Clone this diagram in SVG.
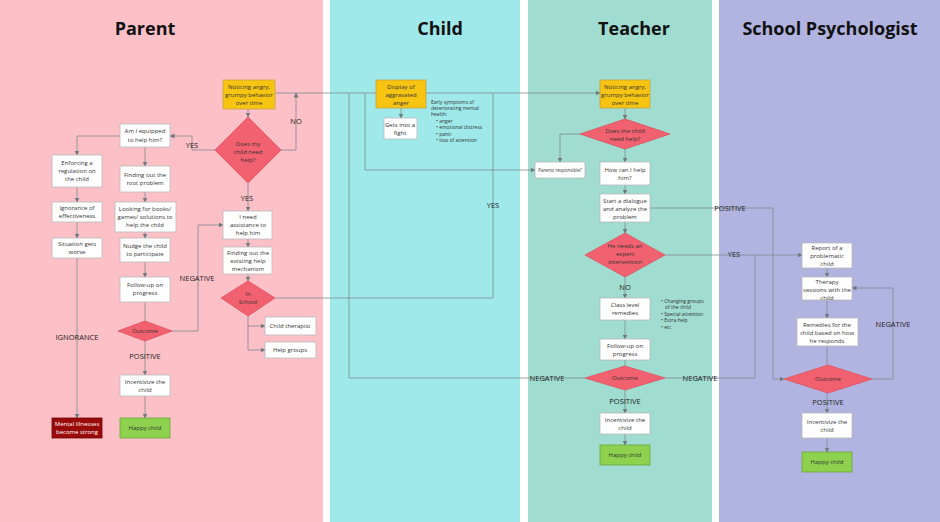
<svg xmlns="http://www.w3.org/2000/svg" width="940" height="522" viewBox="0 0 940 522">
<defs>
<marker id="ah" markerWidth="5" markerHeight="5" refX="4.5" refY="2.5" orient="auto" markerUnits="userSpaceOnUse"><path d="M0,0 L5,2.5 L0,5 z" fill="#6f7a80"/></marker>
<style>
.c{fill:none;stroke:#7d8a90;stroke-width:0.8}
.a{marker-end:url(#ah)}
.b{fill:#fff;stroke:#b8b8b8;stroke-width:0.8}
.y{fill:#f7c511;stroke:#c9a040;stroke-width:0.8}
.d{fill:#f2616f;stroke:#e05060;stroke-width:0.8}
.g{fill:#8dd14f;stroke:#6aa83a;stroke-width:0.8}
.r{fill:#990a0a;stroke:#700;stroke-width:0.8}
text{font-family:"Open Sans","Noto Sans",sans-serif;font-size:6px;fill:#333;text-anchor:middle}
.t{font-size:18px;font-weight:bold;fill:#111}
.l{font-size:7.5px;fill:#222}
.s{font-size:5px;text-anchor:start}
.w{fill:#fff}
</style>
</defs>
<rect width="940" height="522" fill="#fff"/>
<rect x="0" y="0" width="323" height="522" fill="#fec0c7"/>
<rect x="330" y="0" width="190" height="522" fill="#a0e9eb"/>
<rect x="528" y="0" width="184" height="522" fill="#a0dcd0"/>
<rect x="719" y="0" width="221" height="522" fill="#b1b4e0"/>
<text class="t" x="145" y="35">Parent</text>
<text class="t" x="440" y="35">Child</text>
<text class="t" x="634" y="35">Teacher</text>
<text class="t" x="830" y="35">School Psychologist</text>

<g id="connectors">
<path class="c a" d="M275,93 H600"/>
<path class="c a" d="M281,150 H296 V93"/>
<path class="c a" d="M215,150 H192 V136 H170"/>
<path class="c a" d="M120,136 H77 V155"/>
<path class="c a" d="M77,187 V202"/>
<path class="c a" d="M77,222 V238"/>
<path class="c a" d="M77,258 V418"/>
<path class="c a" d="M145,147 V166"/>
<path class="c a" d="M145,192 V202"/>
<path class="c a" d="M145,232 V238"/>
<path class="c a" d="M145,262 V277"/>
<path class="c" d="M145,302 V321"/>
<path class="c a" d="M145,341 V375"/>
<path class="c a" d="M145,396 V418"/>
<path class="c a" d="M172,331 H198 V225 H223"/>
<path class="c a" d="M248,109 V117"/>
<path class="c a" d="M248,183 V211"/>
<path class="c a" d="M248,239 V247"/>
<path class="c a" d="M248,274 V281"/>
<path class="c" d="M248,316 V350"/>
<path class="c a" d="M248,326 H265"/>
<path class="c a" d="M248,350 H265"/>
<path class="c" d="M275,298 H493 V93"/>
<path class="c" d="M585,378 H349 V93"/>
<path class="c a" d="M365,93 V170 H535"/>
<path class="c a" d="M401,108 V118"/>
<path class="c a" d="M625,108 V119"/>
<path class="c a" d="M580,134 H560 V162"/>
<path class="c a" d="M625,149 V162"/>
<path class="c a" d="M625,185 V194"/>
<path class="c a" d="M625,222 V233"/>
<path class="c a" d="M625,277 V298"/>
<path class="c a" d="M625,320 V339"/>
<path class="c" d="M625,360 V366"/>
<path class="c a" d="M625,390 V413"/>
<path class="c a" d="M625,434 V445"/>
<path class="c a" d="M665,255 H802"/>
<path class="c" d="M665,378 H755 V255"/>
<path class="c a" d="M650,208 H773 V379 H784"/>
<path class="c a" d="M827,268 V277"/>
<path class="c a" d="M827,300 V318"/>
<path class="c" d="M827,346 V365"/>
<path class="c a" d="M872,379 H893 V288 H852"/>
<path class="c a" d="M827,393 V413"/>
<path class="c a" d="M827,438 V452"/>
</g>
<g id="labels">
<text class="l" x="192" y="148">YES</text>
<text class="l" x="296" y="124">NO</text>
<text class="l" x="247" y="201">YES</text>
<text class="l" x="197" y="281">NEGATIVE</text>
<text class="l" x="77" y="340">IGNORANCE</text>
<text class="l" x="145" y="359">POSITIVE</text>
<text class="l" x="493" y="208">YES</text>
<text class="l" x="625" y="290">NO</text>
<text class="l" x="547" y="381">NEGATIVE</text>
<text class="l" x="700" y="381">NEGATIVE</text>
<text class="l" x="625" y="404">POSITIVE</text>
<text class="l" x="730" y="211">POSITIVE</text>
<text class="l" x="734" y="257">YES</text>
<text class="l" x="893" y="327">NEGATIVE</text>
<text class="l" x="828" y="405">POSITIVE</text>
</g>

<g id="p-notice"><rect class="y" x="223" y="80" width="52" height="29"/><text x="249" y="89">Noticing angry,</text><text x="249" y="97">grumpy behavior</text><text x="249" y="105">over time</text></g>
<g id="p-need"><polygon class="d" points="248,117 281,150 248,183 215,150"/><text x="248" y="146">Does my</text><text x="248" y="154">child need</text><text x="248" y="162">help?</text></g>
<g id="p-equip"><rect class="b" x="120" y="124" width="50" height="23"/><text x="145" y="133">Am I equipped</text><text x="145" y="142">to help him?</text></g>
<g id="p-enforce"><rect class="b" x="52" y="155" width="50" height="32"/><text x="77" y="165">Enforcing a</text><text x="77" y="173">regulation on</text><text x="77" y="181">the child</text></g>
<g id="p-ignore"><rect class="b" x="52" y="202" width="50" height="20"/><text x="77" y="210">Ignorance of</text><text x="77" y="218">effectiveness</text></g>
<g id="p-worse"><rect class="b" x="52" y="238" width="50" height="20"/><text x="77" y="246">Situation gets</text><text x="77" y="254">worse</text></g>
<g id="p-root"><rect class="b" x="120" y="166" width="50" height="26"/><text x="145" y="177">Finding out the</text><text x="145" y="185">root problem</text></g>
<g id="p-books"><rect class="b" x="115" y="202" width="61" height="30"/><text x="145" y="211">Looking for books/</text><text x="145" y="219">games/ solutions to</text><text x="145" y="227">help the child</text></g>
<g id="p-nudge"><rect class="b" x="120" y="238" width="50" height="24"/><text x="145" y="248">Nudge the child</text><text x="145" y="256">to participate</text></g>
<g id="p-follow"><rect class="b" x="120" y="277" width="50" height="25"/><text x="145" y="287">Follow-up on</text><text x="145" y="295">progress</text></g>
<g id="p-outcome"><polygon class="d" points="118,331 145,321 172,331 145,341"/><text x="145" y="333">Outcome</text></g>
<g id="p-incent"><rect class="b" x="120" y="375" width="50" height="21"/><text x="145" y="384">Incentivize the</text><text x="145" y="392">child</text></g>
<g id="p-happy"><rect class="g" x="120" y="418" width="50" height="20"/><text x="145" y="430">Happy child</text></g>
<g id="p-mental"><rect class="r" x="52" y="418" width="50" height="20"/><text class="w" x="77" y="426">Mental illnesses</text><text class="w" x="77" y="434">become strong</text></g>
<g id="p-assist"><rect class="b" x="223" y="211" width="49" height="28"/><text x="248" y="219">I need</text><text x="248" y="227">assistance to</text><text x="248" y="235">help him</text></g>
<g id="p-existing"><rect class="b" x="223" y="247" width="49" height="27"/><text x="248" y="255">Finding out the</text><text x="248" y="263">existing help</text><text x="248" y="271">mechanism</text></g>
<g id="p-school"><polygon class="d" points="248,281 275,298 248,316 221,298"/><text x="248" y="296">In</text><text x="248" y="304">School</text></g>
<g id="p-therapist"><rect class="b" x="265" y="317" width="51" height="18"/><text x="290" y="328">Child therapist</text></g>
<g id="p-groups"><rect class="b" x="265" y="342" width="51" height="16"/><text x="290" y="352">Help groups</text></g>

<g id="c-anger"><rect class="y" x="376" y="80" width="50" height="28"/><text x="401" y="89">Display of</text><text x="401" y="97">aggravated</text><text x="401" y="105">anger</text></g>
<g id="c-fight"><rect class="b" x="384" y="118" width="33" height="21"/><text x="400" y="127">Gets into a</text><text x="400" y="135">fight</text></g>
<g id="c-symptoms"><text class="s" x="431" y="104">Early symptoms of</text><text class="s" x="431" y="110">deteriorating mental</text><text class="s" x="431" y="116">health:</text><text class="s" x="436" y="123">•  anger</text><text class="s" x="436" y="129">•  emotional distress</text><text class="s" x="436" y="136">•  panic</text><text class="s" x="436" y="142">•  loss of attention</text></g>

<g id="t-notice"><rect class="y" x="600" y="80" width="50" height="28"/><text x="625" y="89">Noticing angry,</text><text x="625" y="97">grumpy behavior</text><text x="625" y="105">over time</text></g>
<g id="t-need"><polygon class="d" points="580,134 625,119 670,134 625,149"/><text x="625" y="133">Does the child</text><text x="625" y="141">need help?</text></g>
<g id="t-parents"><rect class="b" x="535" y="162" width="50" height="16"/><text style="font-size:4.5px" x="560" y="172">Parents responsible?</text></g>
<g id="t-how"><rect class="b" x="600" y="162" width="50" height="23"/><text x="625" y="172">How can I help</text><text x="625" y="180">him?</text></g>
<g id="t-dialogue"><rect class="b" x="600" y="194" width="50" height="28"/><text x="625" y="203">Start a dialogue</text><text x="625" y="211">and analyze the</text><text x="625" y="219">problem</text></g>
<g id="t-expert"><polygon class="d" points="585,255 625,233 665,255 625,277"/><text x="625" y="248">He needs an</text><text x="625" y="256">expert</text><text x="625" y="264">intervention</text></g>
<g id="t-class"><rect class="b" x="600" y="298" width="50" height="22"/><text x="625" y="307">Class level</text><text x="625" y="315">remedies</text></g>
<g id="t-bullets"><text class="s" x="661" y="303">•  Changing groups</text><text class="s" x="665" y="309">of the child</text><text class="s" x="661" y="316">•  Special attention</text><text class="s" x="661" y="322">•  Extra help</text><text class="s" x="661" y="329">•  etc</text></g>
<g id="t-follow"><rect class="b" x="600" y="339" width="50" height="21"/><text x="625" y="348">Follow-up on</text><text x="625" y="356">progress</text></g>
<g id="t-outcome"><polygon class="d" points="585,378 625,366 665,378 625,390"/><text x="625" y="380">Outcome</text></g>
<g id="t-incent"><rect class="b" x="600" y="413" width="50" height="21"/><text x="625" y="422">Incentivize the</text><text x="625" y="430">child</text></g>
<g id="t-happy"><rect class="g" x="600" y="445" width="50" height="20"/><text x="625" y="457">Happy child</text></g>

<g id="s-report"><rect class="b" x="802" y="243" width="50" height="25"/><text x="827" y="250">Report of a</text><text x="827" y="258">problematic</text><text x="827" y="266">child</text></g>
<g id="s-therapy"><rect class="b" x="802" y="277" width="50" height="23"/><text x="827" y="284">Therapy</text><text x="827" y="292">sessions with the</text><text x="827" y="300">child</text></g>
<g id="s-remedies"><rect class="b" x="797" y="318" width="61" height="28"/><text x="827" y="327">Remedies for the</text><text x="827" y="335">child based on how</text><text x="827" y="343">he responds</text></g>
<g id="s-outcome"><polygon class="d" points="784,379 828,365 872,379 828,393"/><text x="828" y="381">Outcome</text></g>
<g id="s-incent"><rect class="b" x="802" y="413" width="50" height="25"/><text x="827" y="424">Incentivize the</text><text x="827" y="432">child</text></g>
<g id="s-happy"><rect class="g" x="802" y="452" width="50" height="20"/><text x="827" y="464">Happy child</text></g>
</svg>
